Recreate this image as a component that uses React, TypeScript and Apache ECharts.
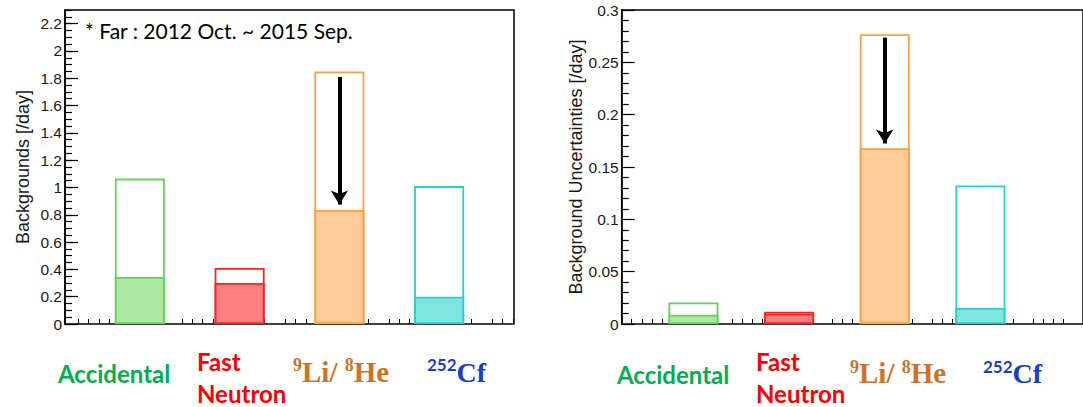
import React, { useEffect, useRef } from "react";
import * as echarts from "echarts";

// ---------- data ----------
const categories = ["Accidental", "Fast\nNeutron", "9Li/ 8He", "252Cf"];
const binCenters = [0.75, 1.75, 2.75, 3.75];
// Backgrounds [/day]: before reduction (open) and after reduction (filled)
const bkgTotal = [1.065, 0.41, 1.85, 1.01];
const bkgReduced = [0.345, 0.30, 0.835, 0.20];
// Background uncertainties [/day]
const uncTotal = [0.0206, 0.0117, 0.2768, 0.1323];
const uncReduced = [0.0089, 0.0099, 0.168, 0.0153];
// arrows: [x, from, to]
const arrowBkg = [2.75, 1.81, 0.875];
const arrowUnc = [2.75, 0.2736, 0.1725];
const leftTicks = ["0", "0.2", "0.4", "0.6", "0.8", "1", "1.2", "1.4", "1.6", "1.8", "2", "2.2"];
const note = "* Far : 2012 Oct. ~ 2015 Sep.";

const edgeColors = ["#5fd755", "#ff2020", "#ffa040", "#26d0d0"];
const fillColors = ["#ade7a1", "#ff8080", "#fdcc99", "#7ee5e1"];
const labelColors = ["#00b050", "#ff0000", "#cd7226", "#1a3cd0"];

const AX_FONT = "Liberation Sans";
const SANS_B = "Lato";
const SERIF_B = "Liberation Serif";

function slots(n: number) {
  const a: string[] = [];
  for (let i = 0; i < n; i++) a.push("t" + i);
  return a;
}

function barSeries(xi: number, yi: number, vals: number[], filled: boolean, arrow?: number[]) {
  const s: any = {
    type: "bar",
    xAxisIndex: xi,
    yAxisIndex: yi,
    barWidth: 50,
    barGap: "-100%",
    silent: true,
    data: binCenters.map((x, i) => ({
      value: [x, vals[i]],
      itemStyle: {
        color: filled ? fillColors[i] : "#ffffff",
        borderColor: edgeColors[i],
        borderWidth: 1.8,
      },
    })),
  };
  if (arrow) {
    s.markLine = {
      silent: true,
      symbol: ["none", "arrow"],
      symbolSize: [13, 14],
      lineStyle: { color: "#000", width: 4, type: "solid", opacity: 1 },
      label: { show: false },
      data: [[{ coord: [arrow[0], arrow[1]] }, { coord: [arrow[0], arrow[2]] }]],
    };
  }
  return s;
}

function catLabels(xs: number[], dy: number) {
  const els: any[] = [];
  const [fast, neutron] = categories[1].split("\n");
  els.push({
    type: "text", x: xs[0], y: 373 + dy,
    style: { text: categories[0], fill: labelColors[0], font: `bold 24px ${SANS_B}`, align: "left", verticalAlign: "middle" },
  });
  els.push({
    type: "text", x: xs[1], y: 361 + dy / 2,
    style: { text: fast, fill: labelColors[1], font: `bold 24px ${SANS_B}`, lineHeight: 24, align: "left", verticalAlign: "middle" },
  });
  els.push({
    type: "text", x: xs[1], y: 393.5,
    style: { text: neutron, fill: labelColors[1], font: `bold 24px ${SANS_B}`, lineHeight: 24, align: "left", verticalAlign: "middle" },
  });
  const li = categories[2];
  els.push({
    type: "text", x: xs[2], y: 371 + dy,
    style: {
      text: `{s|${li.slice(0, 1)}}{m|${li.slice(1, 5)}}{s|${li.slice(5, 6)}}{m|${li.slice(6)}}`,
      fill: labelColors[2], align: "left", verticalAlign: "middle",
      rich: {
        s: { fontSize: 18, fontWeight: "bold", fontFamily: SERIF_B, lineHeight: 18, verticalAlign: "top", fill: labelColors[2] },
        m: { fontSize: 29, fontWeight: "bold", fontFamily: SERIF_B, lineHeight: 30, padding: [5, 0, 0, 0], verticalAlign: "bottom", fill: labelColors[2] },
      },
    },
  });
  els.push({
    type: "text", x: xs[3], y: 371 + dy,
    style: {
      text: `{s|${categories[3].slice(0, 3)}}{m|${categories[3].slice(3)}}`,
      fill: labelColors[3], align: "left", verticalAlign: "middle",
      rich: {
        s: { fontSize: 17, fontWeight: "bold", fontFamily: SANS_B, lineHeight: 17, verticalAlign: "top", fill: labelColors[3] },
        m: { fontSize: 28, fontWeight: "bold", fontFamily: SERIF_B, lineHeight: 30, padding: [2, 0, 0, 0], verticalAlign: "bottom", fill: labelColors[3] },
      },
    },
  });
  return els;
}

const tickAxis = (gi: number, n: number) => ({
  type: "category",
  gridIndex: gi,
  boundaryGap: false,
  data: slots(n),
  axisLine: { show: false },
  axisLabel: { show: false },
  splitLine: { show: false },
  axisTick: {
    show: true,
    inside: true,
    length: 5,
    interval: (idx: number) => idx % 5 !== 0,
    lineStyle: { color: "#000", width: 1 },
  },
});

const yLabel = { fontFamily: AX_FONT, fontSize: 15.5, color: "#1a1a1a", margin: 3 };
const yName = { fontFamily: AX_FONT, fontSize: 18, color: "#1a1a1a" };

const option: any = {
  animation: false,
  backgroundColor: "#ffffff",
  grid: [
    { left: 65, top: 10, width: 449, height: 314, show: true, borderColor: "#000", borderWidth: 1.5, backgroundColor: "transparent" },
    { left: 68, top: 10, width: 445, height: 314, show: false },
    { left: 621.7, top: 10, width: 478.4, height: 314, show: true, borderColor: "#000", borderWidth: 1.5, backgroundColor: "transparent" },
    { left: 621.7, top: 10, width: 478.4, height: 314, show: false },
  ],
  xAxis: [
    { type: "value", gridIndex: 0, min: 0, max: 4.5, show: false },
    tickAxis(1, 44),
    { type: "value", gridIndex: 2, min: 0, max: 4.823, show: false },
    tickAxis(3, 47),
  ],
  yAxis: [
    {
      type: "value", gridIndex: 0, min: 0, max: 2.3, interval: 0.2,
      name: "Backgrounds [/day]", nameLocation: "middle", nameGap: 33, nameTextStyle: yName,
      axisLine: { show: true, lineStyle: { color: "#000", width: 1.5 } },
      axisTick: { show: true, inside: true, length: 13, lineStyle: { color: "#000", width: 1.2 } },
      axisLabel: { ...yLabel, showMaxLabel: false, formatter: (v: number) => leftTicks[Math.round(v / 0.2)] ?? "" },
      splitLine: { show: false },
    },
    {
      type: "value", gridIndex: 0, min: 0, max: 2.3, interval: 0.05, position: "left",
      axisLine: { show: false },
      axisTick: { show: true, inside: true, length: 7, lineStyle: { color: "#000", width: 1.2 } },
      axisLabel: { show: false },
      splitLine: { show: false },
    },
    { type: "value", gridIndex: 1, show: false },
    {
      type: "value", gridIndex: 2, min: 0, max: 0.3, interval: 0.05,
      name: "Background Uncertainties [/day]", nameLocation: "middle", nameGap: 35, nameTextStyle: yName,
      axisLine: { show: true, lineStyle: { color: "#000", width: 1.5 } },
      axisTick: { show: true, inside: true, length: 13, lineStyle: { color: "#000", width: 1.2 } },
      minorTick: { show: true, splitNumber: 5, length: 7, lineStyle: { color: "#000", width: 1.2 } },
      axisLabel: { ...yLabel },
      splitLine: { show: false },
    },
    { type: "value", gridIndex: 3, show: false },
  ],
  series: [
    barSeries(0, 0, bkgTotal, false, arrowBkg),
    barSeries(0, 0, bkgReduced, true),
    barSeries(2, 3, uncTotal, false, arrowUnc),
    barSeries(2, 3, uncReduced, true),
  ],
  graphic: {
    elements: [
      {
        type: "text", x: 85, y: 30,
        style: { text: note, fill: "#000", font: `21px ${SANS_B}`, align: "left", verticalAlign: "middle" },
      },
      ...catLabels([58, 197, 293, 427], 0),
      ...catLabels([617, 756, 850, 983], 1.5),
    ],
  },
};

export default function App() {
  const ref = useRef<HTMLDivElement>(null);
  useEffect(() => {
    document.body.style.margin = "0";
    const chart = echarts.init(ref.current!, null, { renderer: "svg" });
    chart.setOption(option);
    return () => chart.dispose();
  }, []);
  return <div ref={ref} style={{ width: 1083, height: 407 }} />;
}
